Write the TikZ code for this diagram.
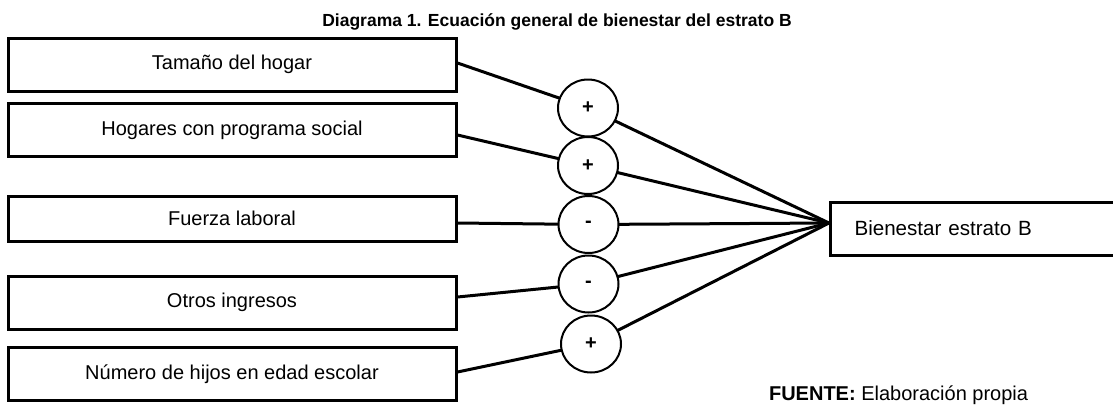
\documentclass[tikz,border=0pt]{standalone}
\usepackage{fontspec}
\setmainfont{Liberation Sans}
\usetikzlibrary{shapes.geometric,backgrounds}
\begin{document}
\begin{tikzpicture}[x=0.5pt,y=-0.5pt,
  varbox/.style={draw,line width=1.5pt,minimum width=224pt,minimum height=26.5pt,inner sep=0pt,fill=white,font=\fontsize{10}{12}\selectfont},
  sign/.style={ellipse,draw,line width=1pt,fill=white,minimum width=30pt,minimum height=28.5pt,inner sep=0pt,font=\bfseries\fontsize{10}{12}\selectfont},
  link/.style={line width=1.5pt,line join=round}]
\useasboundingbox (0,0) rectangle (1113,413);
\node[font=\bfseries\fontsize{8.75}{10}\selectfont,anchor=base] (title) at (557,26) {Diagrama 1. Ecuación general de bienestar del estrato B};
\node[varbox] (b1) at (232,64.5) {Tamaño del hogar};
\node[varbox] (b2) at (232,130) {Hogares con programa social};
\node[varbox,minimum height=22.5pt] (b3) at (232,218.5) {Fuerza laboral};
\node[varbox] (b4) at (232,302.5) {Otros ingresos};
\node[varbox] (b5) at (232,374) {Número de hijos en edad escolar};
\node[sign] (c1) at (588,108) {+};
\node[sign] (c2) at (588,165.5) {+};
\node[sign] (c3) at (588.5,224.5) {-};
\node[sign] (c4) at (588.5,284) {-};
\node[sign] (c5) at (591,344) {+};
\node[draw,line width=1.5pt,anchor=west,minimum height=26.5pt,text width=140pt,inner xsep=12pt,inner ysep=0pt,align=left,font=\fontsize{10.3}{12}\selectfont] (t) at (829,228.5) {Bienestar estrato B};
\coordinate (tp) at (t.west |- 0,223);
\node[anchor=base west,font=\fontsize{10}{12}\selectfont] (src) at (762,400) {\textbf{FUENTE:} Elaboración propia};
\begin{scope}[on background layer]
\draw[link] (b1.east |- 0,63) -- (c1.center) -- (tp);
\draw[link] (b2.east |- 0,135) -- (c2.center) -- (tp);
\draw[link] (b3.east |- 0,223) -- (c3.center) -- (tp);
\draw[link] (b4.east |- 0,297) -- (c4.center) -- (tp);
\draw[link] (b5.east |- 0,372) -- (c5.center) -- (tp);
\end{scope}
\end{tikzpicture}
\end{document}
